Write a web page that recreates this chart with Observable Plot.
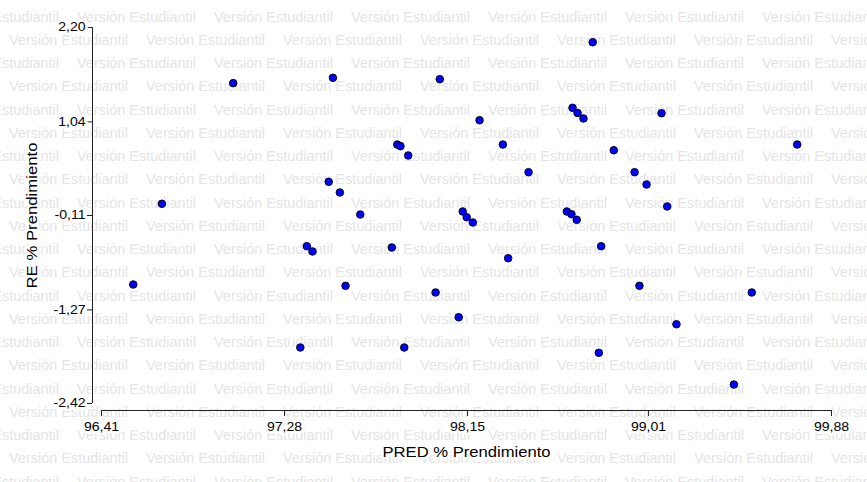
<!DOCTYPE html>
<html><head><meta charset="utf-8">
<script src="https://cdn.jsdelivr.net/npm/d3@7"></script>
<script src="https://cdn.jsdelivr.net/npm/@observablehq/plot@0.6"></script>
<style>
html,body{margin:0;padding:0;background:#fff;}
#chart{width:867px;height:482px;}
</style></head><body><div id="chart"></div>
<script>
const predX = [97.036, 97.510, 98.018, 98.207, 97.816, 97.831, 97.868, 98.318, 98.649, 98.673, 98.701, 98.745, 99.072, 98.845, 99.717, 96.697, 96.561, 98.440, 97.490, 97.543, 97.640, 98.127, 98.146, 98.175, 98.622, 98.644, 98.669, 97.386, 97.413, 97.790, 98.343, 97.570, 97.998, 98.944, 99.001, 99.099, 98.785, 98.967, 99.501, 97.355, 97.849, 98.108, 98.774, 99.143, 99.416];
const reY = [1.516, 1.582, 1.565, 1.061, 0.762, 0.742, 0.627, 0.762, 1.213, 1.150, 1.082, 2.019, 1.147, 0.692, 0.762, 0.034, -0.958, 0.422, 0.304, 0.173, -0.098, -0.061, -0.131, -0.196, -0.061, -0.094, -0.163, -0.487, -0.552, -0.503, -0.635, -0.974, -1.056, 0.422, 0.271, 0.001, -0.487, -0.974, -1.056, -1.732, -1.732, -1.360, -1.797, -1.446, -2.187];
const xTicks = [96.41, 97.28, 98.15, 99.01, 99.88];
const yTicks = [2.20, 1.04, -0.11, -1.27, -2.42];
const xLabel = "PRED % Prendimiento";
const yLabel = "RE % Prendimiento";
const watermark = "Versión Estudiantil";

const data = predX.map((x, i) => ({x, y: reY[i]}));
const fmt = d => d.toFixed(2).replace(".", ",");
const xDom = [xTicks[0], xTicks[xTicks.length - 1]];
const yDom = [yTicks[yTicks.length - 1], yTicks[0]];

const plot = Plot.plot({
  width: 867, height: 482,
  marginLeft: 101, marginRight: 36, marginTop: 27, marginBottom: 79,
  style: {fontFamily: "'Liberation Sans', Arial, sans-serif", fontSize: "12px", color: "#000", background: "transparent", overflow: "visible"},
  x: {domain: xDom, label: null},
  y: {domain: yDom, label: null},
  marks: [
    Plot.ruleX([xDom[0]], {y1: yDom[0], y2: yDom[1], dx: -9, stroke: "#222", strokeWidth: 1}),
    Plot.ruleY([yDom[0]], {x1: xDom[0], x2: xDom[1], dy: 7, stroke: "#222", strokeWidth: 1}),
    Plot.axisY(yTicks, {tickSize: 5, tickPadding: 2, dx: -9, tickFormat: fmt, stroke: "#222", fontSize: 12, textStroke: "white", textStrokeWidth: 5}),
    Plot.axisX(xTicks, {tickSize: 6, tickPadding: 6, dy: 7, tickFormat: fmt, stroke: "#222", fontSize: 12, textStroke: "white", textStrokeWidth: 5}),
    Plot.dot(data, {x: "x", y: "y", r: 3.8, fill: "#0000ff", stroke: "#000", strokeWidth: 0.9}),
    Plot.text([xLabel], {text: d => d, frameAnchor: "bottom", lineAnchor: "middle", textAnchor: "middle", dy: 49, fontSize: 14, fill: "#000", stroke: "white", strokeWidth: 5}),
    Plot.text([yLabel], {text: d => d, frameAnchor: "left", lineAnchor: "middle", textAnchor: "middle", rotate: -90, dx: -69, fontSize: 14, fill: "#000", stroke: "white", strokeWidth: 5})
  ]
});

document.getElementById("chart").appendChild(plot);
const svg = d3.select(plot);
svg.selectAll("text").each(function() {
  const t = this.textContent;
  let target;
  if (t === xLabel) target = 168;
  else if (t === yLabel) target = 146;
  else target = this.getComputedTextLength() * 1.17;
  this.setAttribute("textLength", target);
  this.setAttribute("lengthAdjust", "spacingAndGlyphs");
});

// watermark background
const wm = svg.insert("g", ":first-child")
  .attr("fill", "#e5e5e5")
  .attr("text-anchor", "start")
  .attr("font-family", "'Liberation Sans', Arial, sans-serif")
  .attr("font-size", 14);
for (let k = 0; k < 21; k++) {
  const y = 21.5 + 23.25 * k;
  const x0 = k % 2 === 0 ? -60 : 9;
  for (let x = x0; x < 867; x += 137) {
    wm.append("text").attr("x", x).attr("y", y)
      .attr("textLength", 119).attr("lengthAdjust", "spacingAndGlyphs")
      .text(watermark);
  }
}
</script></body></html>
